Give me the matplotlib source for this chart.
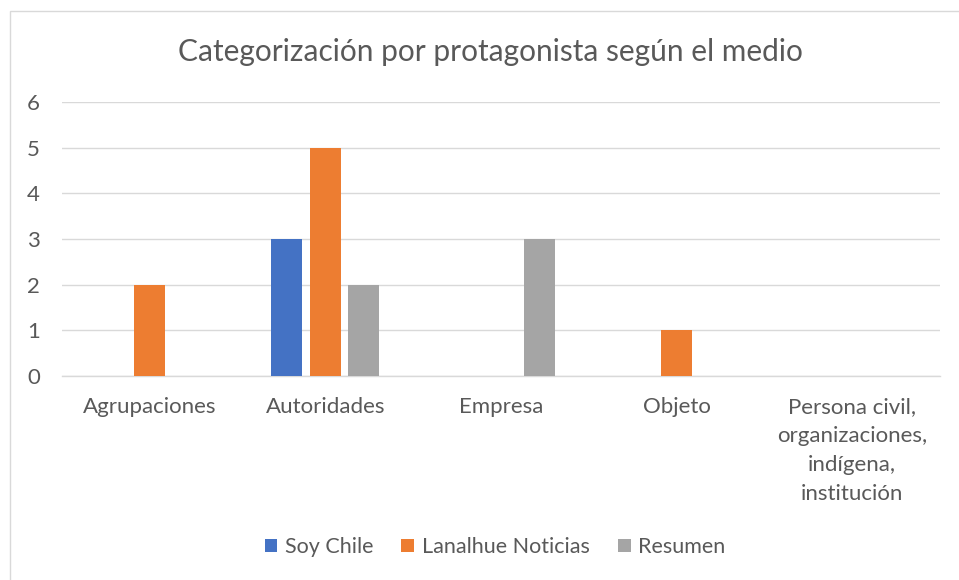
import matplotlib
matplotlib.use("Agg")
import matplotlib.pyplot as plt
import numpy as np
from matplotlib.patches import Rectangle

categories = ["Agrupaciones", "Autoridades", "Empresa", "Objeto",
              "Persona civil,\norganizaciones,\nindígena,\ninstitución"]
series_names = ["Soy Chile", "Lanalhue Noticias", "Resumen"]
soy_chile = [0, 3, 0, 0, 0]
lanalhue = [2, 5, 0, 1, 0]
resumen = [0, 2, 3, 0, 0]
colors = ["#4472C4", "#ED7D31", "#A5A5A5"]
yticks = [0, 1, 2, 3, 4, 5, 6]

plt.rcParams['font.family'] = ['Lato', 'DejaVu Sans']
txt = "#595959"

fig = plt.figure(figsize=(9.59, 5.80), dpi=100)
fig.patches.append(Rectangle((10/959, -0.1), 1.2, (580-11)/580 + 0.1,
                             transform=fig.transFigure, fill=False,
                             edgecolor="#D9D9D9", linewidth=1.0))
ax = fig.add_axes([62/959, 204/580, (940-62)/959, (478-204)/580])

x = np.arange(len(categories))
w = 0.177
step = 0.219
for i, (vals, name) in enumerate(zip([soy_chile, lanalhue, resumen], series_names)):
    ax.bar(x + (i - 1) * step, vals, width=w, color=colors[i], label=name, zorder=3)

ax.set_xlim(-0.5, len(categories) - 0.5)
ax.set_ylim(0, 6)
ax.set_yticks(yticks)
ax.set_yticklabels([str(v) for v in yticks])
ax.set_xticks(x)
ax.set_xticklabels(categories, linespacing=1.56)
ax.grid(axis='y', color="#D9D9D9", linewidth=1.0, zorder=0)
for s in ["top", "right", "left"]:
    ax.spines[s].set_visible(False)
ax.spines["bottom"].set_color("#D9D9D9")
ax.spines["bottom"].set_linewidth(1.0)
ax.tick_params(axis='both', length=0, colors=txt, labelsize=16)
ax.tick_params(axis='y', pad=16)
ax.tick_params(axis='x', pad=15)
for lbl in ax.get_xticklabels():
    lbl.set_verticalalignment('top')

fig.text(490/959, 1 - 52/580, "Categorización por protagonista según el medio",
         ha='center', va='center', fontsize=21.5, color=txt)

leg = fig.legend(loc='center', bbox_to_anchor=(495/959, 1 - 547/580), ncol=3,
                 frameon=False, fontsize=15.5, handlelength=0.6, handleheight=0.6,
                 handletextpad=0.35, columnspacing=1.3)
for t in leg.get_texts():
    t.set_color(txt)

fig.savefig("out.png", dpi=100)
